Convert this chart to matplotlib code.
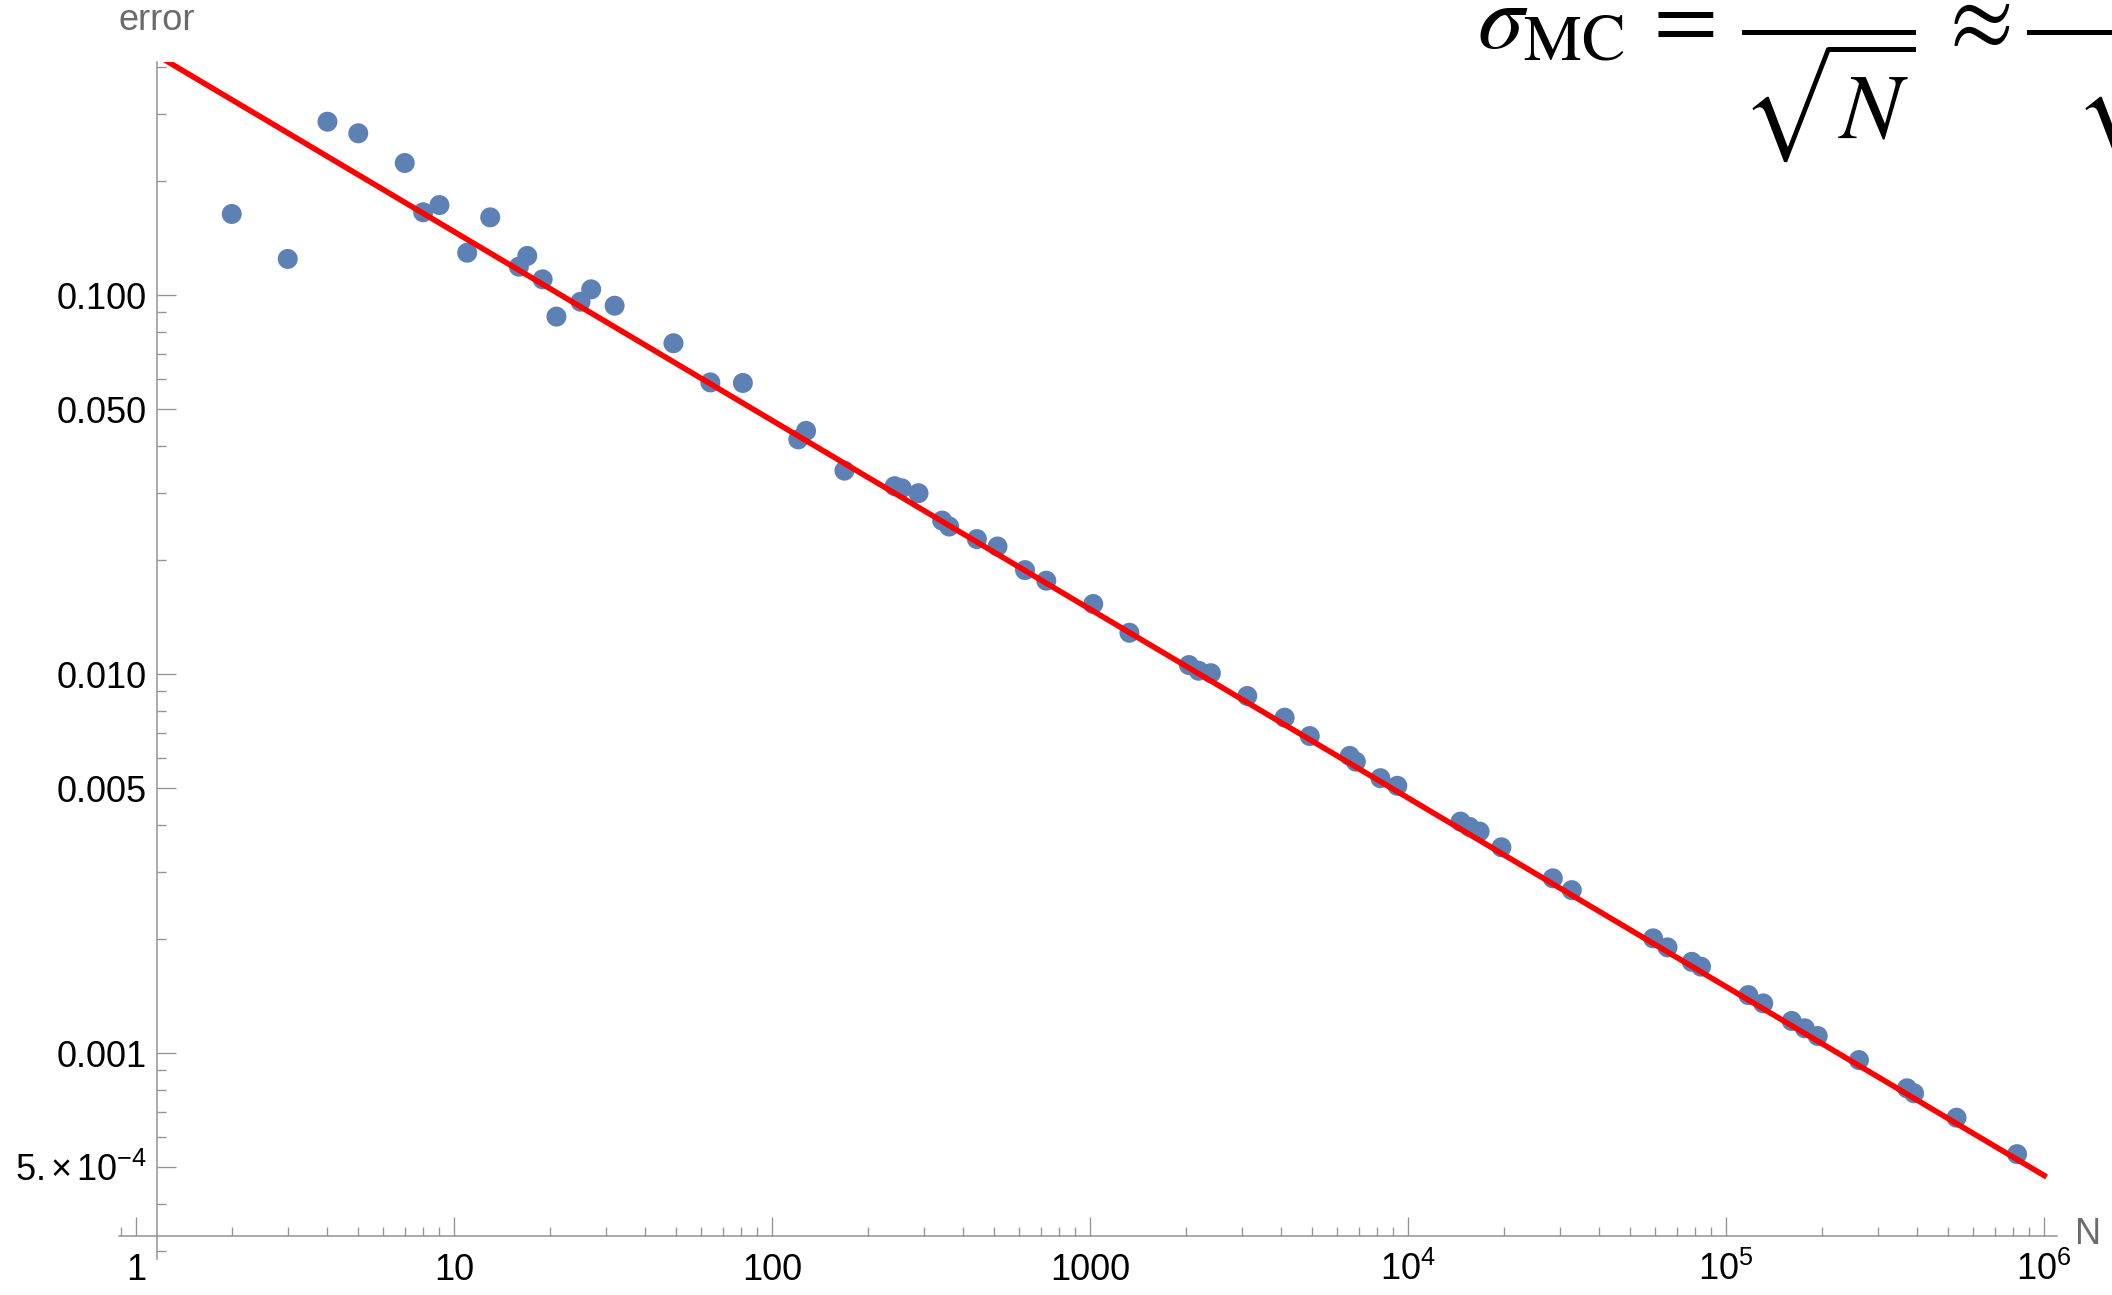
import numpy as np
import matplotlib.pyplot as plt
from matplotlib.ticker import FixedLocator, NullFormatter

plt.rcParams['font.family'] = ['Liberation Sans', 'DejaVu Sans']
plt.rcParams['mathtext.fontset'] = 'custom'
plt.rcParams['mathtext.rm'] = 'Liberation Sans'
plt.rcParams['mathtext.it'] = 'Liberation Sans:italic'
plt.rcParams['mathtext.bf'] = 'Liberation Sans:bold'

# sample sizes N and the measured MC error
n_samples = [2, 3, 4, 5, 7, 8, 9, 11, 13, 16, 17, 19, 21, 25, 27, 32,
             49, 64, 81, 121, 128, 169, 243, 256, 289, 343, 361, 441, 512, 625, 729, 1024,
             1331, 2048, 2197, 2401, 3125, 4096, 4913, 6561, 6859, 8192, 9261,
             14641, 15625, 16807, 19683, 28561, 32768,
             59049, 65536, 78125, 83521, 117649, 131072, 161051, 177147, 194481,
             262144, 371293, 390625, 531441, 823543]
errors = [0.1636, 0.1245, 0.2866, 0.2671, 0.2230, 0.1653, 0.1727, 0.1293, 0.1603, 0.1188,
          0.1268, 0.1100, 0.0877, 0.0960, 0.1035, 0.0937,
          0.0746, 0.0588, 0.0586, 0.0416, 0.0438, 0.0344, 0.0313, 0.0309, 0.0300, 0.0254,
          0.0245, 0.0227, 0.0217, 0.0188, 0.01763, 0.01530,
          0.01285, 0.01056, 0.0102, 0.01005, 0.00875, 0.00767, 0.00686, 0.00608, 0.00587,
          0.00531, 0.00507,
          0.00408, 0.00395, 0.00384, 0.00349, 0.00289, 0.00269,
          0.002007, 0.0019, 0.00174, 0.00169, 0.001422, 0.001352, 0.001215, 0.001162, 0.001109,
          0.000958, 0.000807, 0.000783, 0.000675, 0.000541]

# fitted power law  err = a * N^b
fit_a = 0.4627
fit_b = -0.498
fit_range = [1.0, 1.02e6]

x_major = [1, 10, 100, 1000, 1e4, 1e5, 1e6]
x_labels = ['1', '10', '100', '1000', r'$10^{4}$', r'$10^{5}$', r'$10^{6}$']
y_major = [5e-4, 0.001, 0.005, 0.01, 0.05, 0.1]
y_labels = [r'5.$\,$×$\,$10$^{-4}$', '0.001', '0.005', '0.010', '0.050', '0.100']

W, H = 2112, 1295
fig = plt.figure(figsize=(W / 100, H / 100), dpi=100)
ax = fig.add_axes([119 / W, 1 - 1259 / H, 1938 / W, 1197 / H])
ax.set_xscale('log')
ax.set_yscale('log')
ax.set_xlim(0.884, 1.1e6)
ax.set_ylim(2.861e-4, 0.4119)

axis_grey = '#939393'
for s in ['top', 'right']:
    ax.spines[s].set_visible(False)
ax.spines['left'].set_position(('data', 1.164))
ax.spines['bottom'].set_position(('data', 3.29e-4))
for s in ['left', 'bottom']:
    ax.spines[s].set_color(axis_grey)
    ax.spines[s].set_linewidth(1.1)

ax.scatter(n_samples, errors, s=207, color='#5E81B5', edgecolors='none', zorder=3, clip_on=False)
nl = np.array(fit_range)
ax.plot(nl, fit_a * nl ** fit_b, color='#FF0000', lw=4.0, zorder=4, solid_capstyle='butt')

# ticks, mathematica style
x_minor = [m * 10.0 ** k for k in range(-1, 6) for m in range(2, 10)]
y_minor = [m * 10.0 ** k for k in range(-4, 0) for m in [2, 3, 4, 6, 7, 8, 9]]
ax.xaxis.set_major_locator(FixedLocator(x_major))
ax.xaxis.set_minor_locator(FixedLocator(x_minor))
ax.yaxis.set_major_locator(FixedLocator(y_major))
ax.yaxis.set_minor_locator(FixedLocator(y_minor))
ax.set_xticks(x_major, x_labels)
ax.set_yticks(y_major, y_labels)
ax.xaxis.set_minor_formatter(NullFormatter())
ax.yaxis.set_minor_formatter(NullFormatter())

ax.tick_params(which='both', direction='in', color=axis_grey, width=0.95,
               labelsize=26, labelcolor='black')
ax.tick_params(which='major', length=13.7)
ax.tick_params(which='minor', length=6.8)
ax.tick_params(axis='x', which='major', pad=31.7)
ax.tick_params(axis='y', which='major', pad=7.2)
for lab in ax.get_xticklabels():
    lab.set_verticalalignment('baseline')

fig.text(157 / W, 1 - 21 / H, 'error', ha='center', va='center', fontsize=26, color='#6b6b6b')
fig.text(2088 / W, 1 - 1235 / H, 'N', ha='center', va='center', fontsize=26, color='#6b6b6b')

# formula, cut off at the right edge like the original
fig.text(1477 / W, 1 - 47 / H,
         r'$\sigma_{\mathrm{MC}}\,=\,\dfrac{\,}{\sqrt{N}}\,\approx\dfrac{\qquad\qquad}{\sqrt{N}}$',
         fontsize=67, math_fontfamily='stix', ha='left', va='baseline', color='black')

fig.savefig('out.png', dpi=100)
